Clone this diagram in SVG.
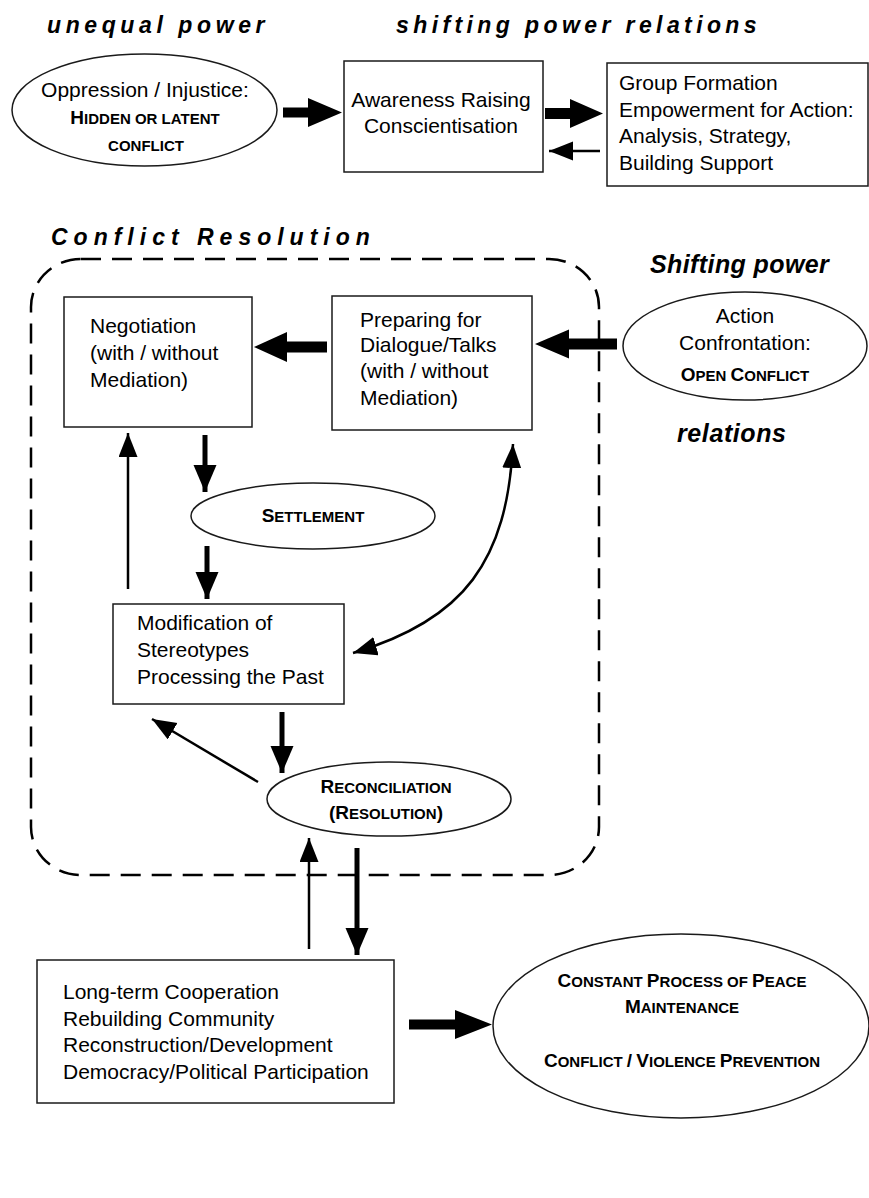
<svg xmlns="http://www.w3.org/2000/svg" width="869" height="1198" viewBox="0 0 869 1198">
<style>
text{font-family:"Liberation Sans",Arial,Helvetica,sans-serif;fill:#000}
.t{font-size:21px}
.c{text-anchor:middle}
.sc{font-size:15px;font-weight:bold}
.bc{font-size:19px}
.title{font-size:23px;font-weight:bold;font-style:italic}
.box{fill:#fff;stroke:#1a1a1a;stroke-width:1.5}
.fat{fill:#000;stroke:none}
.thick{stroke:#000;stroke-width:5;fill:none;marker-end:url(#headThick)}
.thin{stroke:#000;stroke-width:2.5;fill:none;marker-end:url(#headThin)}
.dash{fill:none;stroke:#000;stroke-width:2.5;stroke-dasharray:20 11}
</style>
<defs>
<marker id="headThick" markerUnits="userSpaceOnUse" markerWidth="28" markerHeight="24" refX="27" refY="11.5" orient="auto">
<path d="M0,0 L27,11.5 L0,23 Z" fill="#000"/>
</marker>
<marker id="headThin" markerUnits="userSpaceOnUse" markerWidth="25" markerHeight="20" refX="24" refY="9.5" orient="auto-start-reverse">
<path d="M0,0 L24,9.5 L0,19 Z" fill="#000"/>
</marker>
</defs>
<rect width="869" height="1198" fill="#fff"/>

<g id="titles">
<text class="title" x="47" y="33" letter-spacing="4.6">unequal power</text>
<text class="title" x="396" y="33" letter-spacing="4.4">shifting power relations</text>
<text class="title" x="51" y="245" letter-spacing="6">Conflict Resolution</text>
<text class="title" x="650" y="273" style="font-size:25px" letter-spacing="0.4">Shifting power</text>
<text class="title" x="677" y="442" style="font-size:25px" letter-spacing="0.6">relations</text>
</g>

<g id="conflict-resolution-frame">
<rect class="dash" x="31" y="259" width="568" height="616" rx="50" ry="48"/>
</g>

<g id="oppression">
<ellipse class="box" cx="144.5" cy="110" rx="132.5" ry="56"/>
<text class="t c" x="145" y="97">Oppression / Injustice:</text>
<text class="sc c" x="145" y="124"><tspan class="bc">H</tspan>IDDEN OR LATENT</text>
<text class="sc c" x="146" y="151">CONFLICT</text>
</g>

<g id="awareness">
<rect class="box" x="344" y="61" width="199" height="111"/>
<text class="t c" x="441" y="107">Awareness Raising</text>
<text class="t c" x="441" y="133">Conscientisation</text>
</g>

<g id="group-formation">
<rect class="box" x="607" y="63" width="261" height="123"/>
<text class="t" x="619" y="90">Group Formation</text>
<text class="t" x="619" y="117">Empowerment for Action:</text>
<text class="t" x="619" y="143">Analysis, Strategy,</text>
<text class="t" x="619" y="170">Building Support</text>
</g>

<g id="action">
<ellipse class="box" cx="745" cy="346" rx="122" ry="54"/>
<text class="t c" x="745" y="323">Action</text>
<text class="t c" x="745" y="350">Confrontation:</text>
<text class="sc c" x="745" y="381"><tspan class="bc">O</tspan>PEN <tspan class="bc">C</tspan>ONFLICT</text>
</g>

<g id="preparing">
<rect class="box" x="332" y="296" width="200" height="134"/>
<text class="t" x="360" y="327">Preparing for</text>
<text class="t" x="360" y="352">Dialogue/Talks</text>
<text class="t" x="360" y="378">(with / without</text>
<text class="t" x="360" y="405">Mediation)</text>
</g>

<g id="negotiation">
<rect class="box" x="64" y="297" width="188" height="130"/>
<text class="t" x="90" y="333">Negotiation</text>
<text class="t" x="90" y="360">(with / without</text>
<text class="t" x="90" y="387">Mediation)</text>
</g>

<g id="settlement">
<ellipse class="box" cx="313" cy="516" rx="122" ry="33"/>
<text class="sc c" x="313" y="522"><tspan class="bc">S</tspan>ETTLEMENT</text>
</g>

<g id="modification">
<rect class="box" x="113" y="604" width="231" height="100"/>
<text class="t" x="137" y="630">Modification of</text>
<text class="t" x="137" y="657">Stereotypes</text>
<text class="t" x="137" y="684">Processing the Past</text>
</g>

<g id="reconciliation">
<ellipse class="box" cx="389" cy="799" rx="122" ry="37"/>
<text class="sc c" x="386" y="793"><tspan class="bc">R</tspan>ECONCILIATION</text>
<text class="sc c" x="386" y="819"><tspan class="bc">(R</tspan>ESOLUTION<tspan class="bc">)</tspan></text>
</g>

<g id="long-term">
<rect class="box" x="37" y="960" width="357" height="143"/>
<text class="t" x="63" y="999">Long-term Cooperation</text>
<text class="t" x="63" y="1026">Rebuilding Community</text>
<text class="t" x="63" y="1052">Reconstruction/Development</text>
<text class="t" x="63" y="1079">Democracy/Political Participation</text>
</g>

<g id="peace-maintenance">
<ellipse class="box" cx="681" cy="1026" rx="188" ry="92"/>
<text class="sc c" x="682" y="987"><tspan class="bc">C</tspan>ONSTANT <tspan class="bc">P</tspan>ROCESS OF <tspan class="bc">P</tspan>EACE</text>
<text class="sc c" x="682" y="1013"><tspan class="bc">M</tspan>AINTENANCE</text>
<text class="sc c" x="682" y="1067"><tspan class="bc">C</tspan>ONFLICT <tspan class="bc">/</tspan> <tspan class="bc">V</tspan>IOLENCE <tspan class="bc">P</tspan>REVENTION</text>
</g>

<g id="connectors">
<path class="fat" d="M283,107.5 H308 V98 L342,112.5 L308,127 V117.5 H283 Z"/>
<path class="fat" d="M545,108 H570 V99 L603,113.5 L570,128 V119 H545 Z"/>
<line class="thin" x1="600" y1="151" x2="549" y2="151"/>
<path class="fat" d="M617,338.5 H569 V329.5 L535,344 L569,358.5 V349.5 H617 Z"/>
<path class="fat" d="M327,341.5 H287 V332 L254,347 L287,362 V352.5 H327 Z"/>
<line class="thin" x1="128" y1="589" x2="128" y2="433"/>
<line class="thick" x1="205" y1="435" x2="205" y2="492"/>
<line class="thick" x1="207" y1="546" x2="207" y2="599"/>
<path class="thin" d="M513,444 C507,560 465,620 353,653" marker-start="url(#headThin)"/>
<line class="thick" x1="282" y1="712" x2="282" y2="773"/>
<line class="thin" x1="258" y1="782" x2="152" y2="719"/>
<line class="thin" x1="309" y1="949" x2="309" y2="838"/>
<line class="thick" x1="357" y1="848" x2="357" y2="955"/>
<path class="fat" d="M409,1019.5 H455 V1010 L492,1024.5 L455,1039 V1029.5 H409 Z"/>
</g>
</svg>
